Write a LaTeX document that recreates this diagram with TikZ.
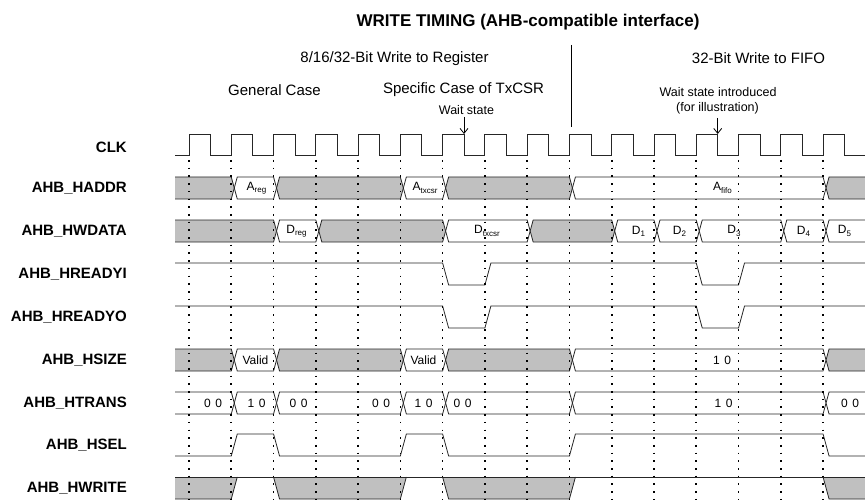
\documentclass[tikz,border=0pt]{standalone}
\usepackage{fontspec}
\setmainfont{Liberation Sans}
\usetikzlibrary{arrows.meta}
\definecolor{busgray}{RGB}{192,192,192}
\newcommand\sub[2]{#1\raisebox{-0.35ex}{\fontsize{8}{8}\selectfont #2}}
\newcommand\dd[2]{#1\kern4.5pt#2}
\newcommand\seg[4]{%
  \pgfmathsetmacro\xa{189+42.27*(#1)}%
  \pgfmathsetmacro\xb{189+42.27*(#2)}%
  \path[#4] (\xa+3,#3+11) -- (\xa+6,#3) -- (\xb,#3) -- (\xb+3,#3+11) -- (\xb,#3+22) -- (\xa+6,#3+22) -- cycle;}
\begin{document}
\begin{tikzpicture}[x=1pt,y=-1pt]
\tikzset{
  sig/.style={draw=black!85, line width=0.8pt, line join=miter},
  busfill/.style={sig, fill=busgray},
  buswhite/.style={sig, fill=white},
  siglabel/.style={font=\fontsize{15}{17}\selectfont\bfseries, anchor=east, inner sep=0},
  vallabel/.style={font=\fontsize{12}{14}\selectfont, inner sep=0},
  headtext/.style={font=\fontsize{15}{17}\selectfont, inner sep=0},
  smalltext/.style={font=\fontsize{12.5}{14}\selectfont, inner sep=0, align=center},
  tickline/.style={black, line width=1.6pt, dash pattern=on 1.6pt off 6.1pt},
  pointer/.style={draw=black, line width=0.8pt, -{Straight Barb[length=5pt,width=8pt]}},
}
\useasboundingbox (0,0) rectangle (865,500);

% headings
\node[font=\fontsize{17}{19}\selectfont\bfseries, inner sep=0] (title) at (528,22) {WRITE TIMING (AHB-compatible interface)};
\node[headtext] (reg) at (394.5,59) {8/16/32-Bit Write to Register};
\node[headtext] (fifo) at (758.5,58) {32-Bit Write to FIFO};
\node[headtext] (gen) at (274.5,90) {General Case};
\node[headtext] (spec) at (463.5,90) {Specific Case of TxCSR};
\node[smalltext] (ws1) at (466.5,110) {Wait state};
\node[smalltext] (ws2a) at (718,92) {Wait state introduced};
\node[smalltext] (ws2b) at (717.5,108) {(for illustration)};
\coordinate (div1) at (571,45);
\coordinate (div2) at (571,127);
\draw[line width=0.8pt] (div1) -- (div2);
\coordinate (a1s) at (464,117); \coordinate (a1e) at (464,134);
\coordinate (a2s) at (717.7,118); \coordinate (a2e) at (717.7,134);
\draw[pointer] (a1s) -- (a1e);
\draw[pointer] (a2s) -- (a2e);

% signal names
\node[siglabel] (lclk) at (127,147) {CLK};
\node[siglabel] (laddr) at (127,188) {AHB\_HADDR};
\node[siglabel] (lwdata) at (127,231) {AHB\_HWDATA};
\node[siglabel] (lrdyi) at (127,274) {AHB\_HREADYI};
\node[siglabel] (lrdyo) at (127,317) {AHB\_HREADYO};
\node[siglabel] (lsize) at (127,360) {AHB\_HSIZE};
\node[siglabel] (ltrans) at (127,403) {AHB\_HTRANS};
\node[siglabel] (lsel) at (127,445) {AHB\_HSEL};
\node[siglabel] (lwrite) at (127,488) {AHB\_HWRITE};

% clock
\draw[sig] (175,155) \foreach \k in {0,...,15} { -- ({189+42.27*\k},155) -- ({189+42.27*\k},134) -- ({210.5+42.27*\k},134) -- ({210.5+42.27*\k},155) } -- (865,155);

\begin{scope}
\clip (175,100) rectangle (865,502);
% HADDR
\seg{-1}{1}{177}{busfill} \seg{1}{2}{177}{buswhite} \seg{2}{5}{177}{busfill}
\seg{5}{6}{177}{buswhite} \seg{6}{9}{177}{busfill} \seg{9}{15}{177}{buswhite}
\seg{15}{17}{177}{busfill}
% HWDATA
\seg{-1}{2}{220}{busfill} \seg{2}{3}{220}{buswhite} \seg{3}{6}{220}{busfill}
\seg{6}{8}{220}{buswhite} \seg{8}{10}{220}{busfill} \seg{10}{11}{220}{buswhite}
\seg{11}{12}{220}{buswhite} \seg{12}{14}{220}{buswhite} \seg{14}{15}{220}{buswhite}
\seg{15}{17}{220}{buswhite}
% HSIZE
\seg{-1}{1}{349}{busfill} \seg{1}{2}{349}{buswhite} \seg{2}{5}{349}{busfill}
\seg{5}{6}{349}{buswhite} \seg{6}{9}{349}{busfill} \seg{9}{15}{349}{buswhite}
\seg{15}{17}{349}{busfill}
% HTRANS
\seg{-1}{1}{392}{buswhite} \seg{1}{2}{392}{buswhite} \seg{2}{5}{392}{buswhite}
\seg{5}{6}{392}{buswhite} \seg{6}{9}{392}{buswhite} \seg{9}{15}{392}{buswhite}
\seg{15}{17}{392}{buswhite}
% HWRITE
\fill[busgray] (175,477) -- (237.27,477) -- (231.27,499) -- (175,499) -- cycle;
\fill[busgray] (273.54,477) -- (279.54,499) -- (400.35,499) -- (406.35,477) -- cycle;
\fill[busgray] (442.62,477) -- (448.62,499) -- (569.43,499) -- (575.43,477) -- cycle;
\fill[busgray] (823.05,477) -- (829.05,499) -- (870,499) -- (870,477) -- cycle;
\draw[sig] (175,477) -- (865,477);
\draw[sig] (175,499) -- (231.27,499) -- (237.27,477);
\draw[sig] (273.54,477) -- (279.54,499) -- (400.35,499) -- (406.35,477);
\draw[sig] (442.62,477) -- (448.62,499) -- (569.43,499) -- (575.43,477);
\draw[sig] (823.05,477) -- (829.05,499) -- (870,499);
\end{scope}

% level signals
\draw[sig] (175,263) -- (442.62,263) -- (448.62,285) -- (484.89,285) -- (490.89,263) -- (696.24,263) -- (702.24,285) -- (738.51,285) -- (744.51,263) -- (865,263);
\draw[sig] (175,306) -- (442.62,306) -- (448.62,328) -- (484.89,328) -- (490.89,306) -- (696.24,306) -- (702.24,328) -- (738.51,328) -- (744.51,306) -- (865,306);
\draw[sig] (175,456) -- (231.27,456) -- (237.27,434) -- (273.54,434) -- (279.54,456) -- (400.35,456) -- (406.35,434) -- (442.62,434) -- (448.62,456) -- (569.43,456) -- (575.43,434) -- (823.05,434) -- (829.05,456) -- (865,456);

% values
\node[vallabel] (areg) at (256.5,188) {\sub{A}{reg}};
\node[vallabel] (atx) at (425,188) {\sub{A}{txcsr}};
\node[vallabel] (afifo) at (722.5,188) {\sub{A}{fifo}};
\node[vallabel] (dreg) at (296.5,231) {\sub{D}{reg}};
\node[vallabel] (dtx) at (487,231) {\sub{D}{txcsr}};
\node[vallabel] (d1) at (638.5,231) {\sub{D}{1}};
\node[vallabel] (d2) at (679.5,231) {\sub{D}{2}};
\node[vallabel] (d3) at (734,231) {\sub{D}{3}};
\node[vallabel] (d4) at (803.5,231) {\sub{D}{4}};
\node[vallabel] (d5) at (844.5,231) {\sub{D}{5}};
\node[vallabel] (v1) at (255.5,360) {Valid};
\node[vallabel] (v2) at (423.5,360) {Valid};
\node[vallabel] (s10) at (722,360) {\dd10};
\node[vallabel] (t1) at (213,403) {\dd00};
\node[vallabel] (t2) at (256.5,403) {\dd10};
\node[vallabel] (t3) at (298.5,403) {\dd00};
\node[vallabel] (t4) at (381,403) {\dd00};
\node[vallabel] (t5) at (423.5,403) {\dd10};
\node[vallabel] (t6) at (462.5,403) {\dd00};
\node[vallabel] (t7) at (723.5,403) {\dd10};
\node[vallabel] (t8) at (850,403) {\dd00};

% dotted edge markers
\foreach \k in {0,...,15} \draw[tickline] ({189+42.27*\k},160) -- ({189+42.27*\k},500);
\end{tikzpicture}
\end{document}
